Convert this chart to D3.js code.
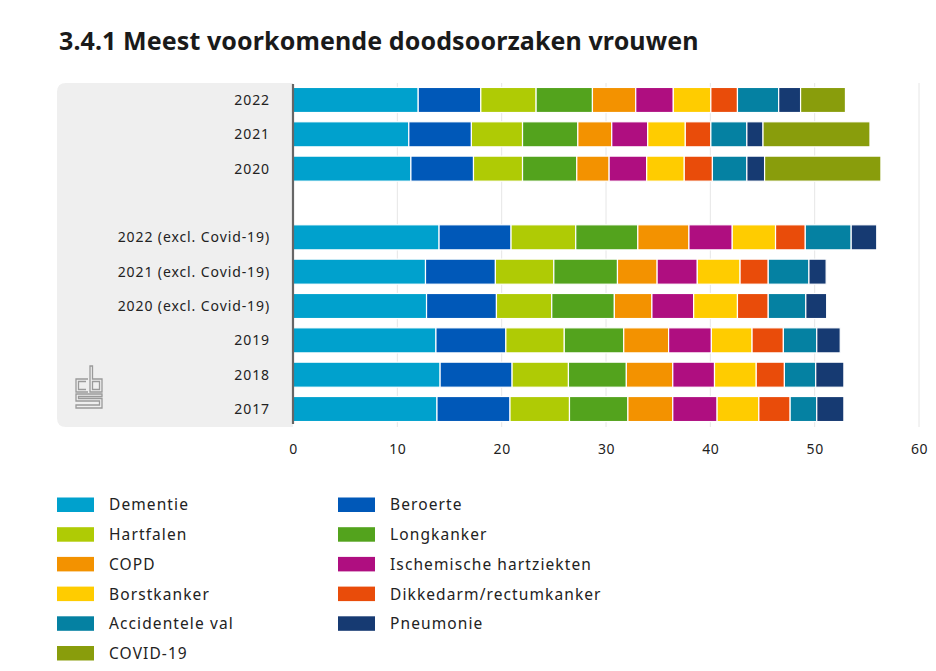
<!DOCTYPE html>
<html>
<head>
<meta charset="utf-8">
<script src="https://cdn.jsdelivr.net/npm/d3@7/dist/d3.min.js"></script>
<style>
  html, body { margin: 0; padding: 0; background: #fff; }
  svg { display: block; }
  text { font-family: "Noto Sans", "Open Sans", sans-serif; }
</style>
</head>
<body>
<svg id="chart" width="936" height="671"></svg>
<script>
// ---- data ----
const title = "3.4.1 Meest voorkomende doodsoorzaken vrouwen";
const categories = ["2022", "2021", "2020", "", "2022 (excl. Covid-19)", "2021 (excl. Covid-19)",
                    "2020 (excl. Covid-19)", "2019", "2018", "2017"];
const seriesNames = ["Dementie", "Beroerte", "Hartfalen", "Longkanker", "COPD",
                     "Ischemische hartziekten", "Borstkanker", "Dikkedarm/rectumkanker",
                     "Accidentele val", "Pneumonie", "COVID-19"];
const seriesColors = ["#00a1cd", "#0058b8", "#afcb05", "#53a31d", "#f39200",
                      "#af0e80", "#ffcc00", "#e94c0a", "#0581a2", "#163a72", "#899d0c"];
// values per category (same order as categories; spacer row = null)
const dementie     = [12.0, 11.1, 11.3, null, 14.0, 12.7, 12.8, 13.7, 14.1, 13.8];
const beroerte     = [6.0, 6.0, 6.0, null, 6.9, 6.7, 6.7, 6.7, 6.9, 7.0];
const hartfalen    = [5.3, 4.9, 4.7, null, 6.2, 5.6, 5.3, 5.6, 5.4, 5.7];
const longkanker   = [5.4, 5.3, 5.2, null, 5.95, 6.1, 6.0, 5.7, 5.55, 5.6];
const copd         = [4.15, 3.25, 3.1, null, 4.9, 3.8, 3.6, 4.3, 4.45, 4.3];
const ischemische  = [3.6, 3.45, 3.6, null, 4.15, 3.85, 4.0, 4.1, 4.0, 4.25];
const borstkanker  = [3.6, 3.6, 3.6, null, 4.15, 4.1, 4.2, 3.9, 4.0, 4.0];
const dikkedarm    = [2.55, 2.45, 2.7, null, 2.85, 2.7, 2.95, 3.0, 2.7, 3.0];
const accidenteel  = [3.95, 3.45, 3.3, null, 4.4, 3.9, 3.6, 3.2, 3.0, 2.55];
const pneumonie    = [2.1, 1.55, 1.7, null, 2.45, 1.65, 2.0, 2.25, 2.7, 2.6];
const covid        = [4.3, 10.25, 11.15, null, 0, 0, 0, 0, 0, 0];
const seriesValues = [dementie, beroerte, hartfalen, longkanker, copd, ischemische,
                      borstkanker, dikkedarm, accidenteel, pneumonie, covid];
const xTicks = [0, 10, 20, 30, 40, 50, 60];

// ---- build table ----
const table = categories.map((c, i) => {
  const row = { cat: c, key: "k" + i };
  seriesNames.forEach((s, j) => { row[s] = seriesValues[j][i] || 0; });
  return row;
});

const svg = d3.select("#chart");

// title
svg.append("text")
  .attr("x", 59).attr("y", 50)
  .attr("font-size", 25).attr("font-weight", 700)
  .attr("letter-spacing", 0.1)
  .attr("fill", "#1a1a1a")
  .text(title);

const x = d3.scaleLinear().domain([0, 60]).range([293, 919]);
const y = d3.scaleBand().domain(table.map(d => d.key))
  .range([82.8, 426.2]).paddingInner(0.27).paddingOuter(0.135);

// gray label panel (rounded on the left)
const pTop = 83, pBot = 427, pL = 57, pR = 293, r = 9;
svg.append("path")
  .attr("d", `M${pR},${pTop} L${pL + r},${pTop} Q${pL},${pTop} ${pL},${pTop + r} L${pL},${pBot - r} Q${pL},${pBot} ${pL + r},${pBot} L${pR},${pBot} Z`)
  .attr("fill", "#efefef");

// gridlines
svg.append("g").selectAll("line")
  .data(xTicks.filter(t => t > 0))
  .join("line")
  .attr("x1", d => x(d)).attr("x2", d => x(d))
  .attr("y1", pTop).attr("y2", pBot)
  .attr("stroke", "#e6e6e6").attr("stroke-width", 1);

// stacked bars
const stack = d3.stack().keys(seriesNames)(table);
svg.append("g").selectAll("g")
  .data(stack)
  .join("g")
  .attr("fill", (d, i) => seriesColors[i])
  .selectAll("rect")
  .data(d => d.filter(p => p.data.cat !== "" && p[1] - p[0] > 0))
  .join("rect")
  .attr("x", d => x(d[0]))
  .attr("width", d => x(d[1]) - x(d[0]))
  .attr("y", d => y(d.data.key))
  .attr("height", y.bandwidth())
  .attr("stroke", "#fff").attr("stroke-width", 1.2);

// y labels
svg.append("g").selectAll("text")
  .data(table.filter(d => d.cat !== ""))
  .join("text")
  .attr("x", 270)
  .attr("y", d => y(d.key) + y.bandwidth() / 2)
  .attr("dy", "0.35em")
  .attr("text-anchor", "end")
  .attr("font-size", 14)
  .attr("letter-spacing", 0.9)
  .attr("fill", "#222")
  .text(d => d.cat);

// axis line
svg.append("line")
  .attr("x1", 293).attr("x2", 293)
  .attr("y1", pTop + 1).attr("y2", pBot - 3)
  .attr("stroke", "#666").attr("stroke-width", 2.2);

// x axis tick labels
const xAxis = d3.axisBottom(x).tickValues(xTicks).tickSize(0).tickPadding(0);
const gx = svg.append("g").attr("transform", "translate(0,444)").call(xAxis);
gx.select(".domain").remove();
gx.selectAll("text")
  .attr("font-size", 14).attr("fill", "#222")
  .attr("letter-spacing", 0.6)
  .attr("font-family", '"Noto Sans", sans-serif');

// CBS logo (outline)
const logo = svg.append("g").attr("fill", "none").attr("stroke", "#9a9a9a").attr("stroke-width", 1.3);
logo.append("path").attr("d", "M88,379 H76 V392 H88 M86,381.5 H78.5 V389.5 H86");
logo.append("path").attr("d", "M90,366 V392 H102 V379 H92.5 V366 Z M92.5,381.5 H99.5 V389.5 H92.5 Z");
logo.append("path").attr("d", "M102,394 H76 V401 H99.5 V405 H76 V408 H102 V398.5 H78.5 V396.5 H102 Z");

// legend
const legend = svg.append("g");
seriesNames.forEach((s, i) => {
  const col = i % 2, row = Math.floor(i / 2);
  const lx = col === 0 ? 57 : 338;
  const ly = 497.5 + row * 29.7;
  legend.append("rect")
    .attr("x", lx).attr("y", ly).attr("width", 37).attr("height", 14.5)
    .attr("fill", seriesColors[i]);
  legend.append("text")
    .attr("x", lx + 52).attr("y", ly + 7.5).attr("dy", "0.35em")
    .attr("font-size", 15.5)
    .attr("letter-spacing", 1.1)
    .attr("fill", "#222")
    .text(s);
});
</script>
</body>
</html>
